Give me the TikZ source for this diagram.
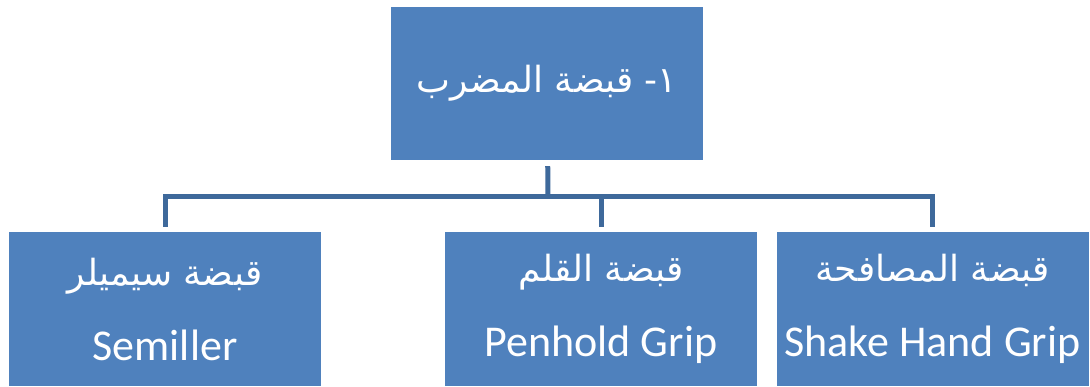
\documentclass[tikz,border=0pt]{standalone}
\usepackage{fontspec}
\setmainfont{Carlito}
\newfontfamily\arabicfont[Script=Arabic]{DejaVu Sans}
\TeXXeTstate=1
\definecolor{boxblue}{HTML}{4F81BD}
\definecolor{lineblue}{HTML}{3E699B}
\tikzset{
  gripbox/.style={fill=boxblue, text=white, inner sep=0pt, minimum width=312pt, minimum height=154pt, align=center, font=\fontsize{44}{75}\selectfont},
  conn/.style={draw=lineblue, line width=5pt}
}
\begin{document}
\begin{tikzpicture}[x=1pt,y=-1pt]
\useasboundingbox (0,0) rectangle (1090,386);
\node[gripbox, minimum height=153pt] (grip) at (547,83.5) {\arabicfont\fontsize{36}{44}\selectfont\beginR ١- قبضة المضرب\endR};
\node[gripbox] (semi) at (165,309) {{\arabicfont\fontsize{36}{75}\selectfont\beginR قبضة سيميلر\endR}\\Semiller};
\node[gripbox] (pen) at (601,309) {{\arabicfont\fontsize{36}{75}\selectfont\beginR قبضة القلم\endR}\\Penhold Grip};
\node[gripbox] (shake) at (932.5,309) {{\arabicfont\fontsize{36}{75}\selectfont\beginR قبضة المصافحة\endR}\\Shake Hand Grip};
\coordinate (hub) at (548,196);

\path[conn, shorten <=6pt] (grip) -- (hub);
\path[conn, shorten >=5pt] (hub) -| (semi);
\path[conn, shorten >=5pt] (hub) -| (pen);
\path[conn, shorten >=5pt] (hub) -| (shake);
\end{tikzpicture}
\end{document}
